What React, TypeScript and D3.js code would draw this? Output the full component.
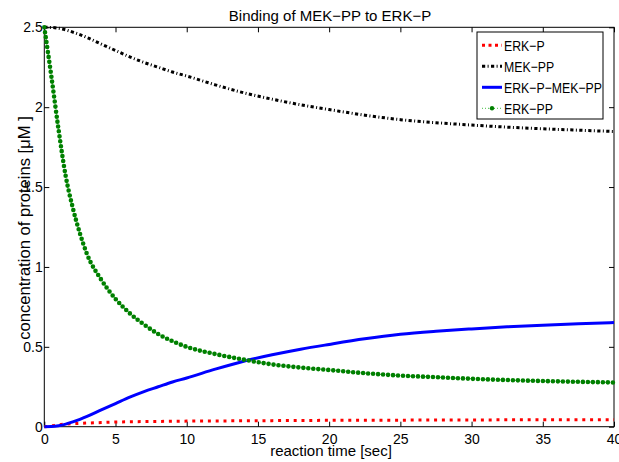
import React, { useEffect, useRef } from 'react';
import * as d3 from 'd3';

// reaction time [sec]
const time = [0, 0.5, 1, 1.5, 2, 2.5, 3, 4, 5, 6, 7, 8, 9, 10, 12, 14, 16, 18, 20, 22.5, 25, 27.5, 30, 32.5, 35, 37.5, 40];
// concentrations [uM]
const erkP = [0, 0.005, 0.012, 0.016, 0.019, 0.021, 0.023, 0.026, 0.029, 0.031, 0.032, 0.033, 0.034, 0.035, 0.036, 0.037, 0.038, 0.039, 0.04, 0.041, 0.041, 0.042, 0.042, 0.043, 0.043, 0.044, 0.044];
const mekPP = [2.5, 2.499, 2.494, 2.484, 2.47, 2.454, 2.436, 2.395, 2.355, 2.315, 2.28, 2.25, 2.22, 2.195, 2.14, 2.09, 2.05, 2.015, 1.985, 1.95, 1.922, 1.903, 1.888, 1.875, 1.865, 1.856, 1.848];
const erkPMekPP = [0, 0.001, 0.006, 0.016, 0.03, 0.046, 0.064, 0.105, 0.145, 0.185, 0.22, 0.25, 0.28, 0.305, 0.36, 0.41, 0.45, 0.485, 0.515, 0.55, 0.578, 0.597, 0.612, 0.625, 0.635, 0.644, 0.652];
const erkPP = [2.5, 2.19, 1.86, 1.57, 1.37, 1.21, 1.08, 0.92, 0.8, 0.71, 0.64, 0.58, 0.535, 0.5, 0.455, 0.42, 0.39, 0.37, 0.355, 0.335, 0.32, 0.31, 0.3, 0.292, 0.286, 0.281, 0.277];

const xTicks = [0, 5, 10, 15, 20, 25, 30, 35, 40];
const yTicks = [0, 0.5, 1, 1.5, 2, 2.5];
const yTickLabels = ['0', '0.5', '1', '1.5', '2', '2.5'];
const seriesNames = ['ERK−P', 'MEK−PP', 'ERK−P−MEK−PP', 'ERK−PP'];

const W = 619;
const H = 462;
const FONT = "'Liberation Sans', Arial, Helvetica, sans-serif";

const App = () => {
  const ref = useRef<SVGSVGElement>(null);

  useEffect(() => {
    const svg = d3.select(ref.current);
    svg.selectAll('*').remove();

    const left = 44.3, right = 614, top = 27.3, bottom = 426.7;

    const x = d3.scaleLinear().domain([0, 40]).range([left, right]);
    const y = d3.scaleLinear().domain([0, 2.5]).range([bottom, top]);

    svg.append('rect').attr('width', W).attr('height', H).attr('fill', '#fff');

    // axes, ticks pointing inwards like matlab
    const styleAxis = (g) => {
      g.select('.domain').remove();
      g.selectAll('.tick line').attr('stroke', '#000');
      g.selectAll('text').attr('font-family', FONT).attr('font-size', 14).attr('fill', '#000');
    };

    svg.append('g')
      .attr('transform', `translate(0,${bottom})`)
      .call(d3.axisBottom(x).tickValues(xTicks).tickFormat(d3.format('d')).tickSizeInner(-5).tickSizeOuter(0).tickPadding(7.5))
      .call(styleAxis);

    svg.append('g')
      .attr('transform', `translate(0,${top})`)
      .call(d3.axisTop(x).tickValues(xTicks).tickFormat(() => '').tickSizeInner(-5).tickSizeOuter(0))
      .call(styleAxis);

    svg.append('g')
      .attr('transform', `translate(${left},0)`)
      .call(d3.axisLeft(y).tickValues(yTicks).tickFormat((d, i) => yTickLabels[i]).tickSizeInner(-5).tickSizeOuter(0).tickPadding(1.6))
      .call(styleAxis);

    svg.append('g')
      .attr('transform', `translate(${right},0)`)
      .call(d3.axisRight(y).tickValues(yTicks).tickFormat(() => '').tickSizeInner(-5).tickSizeOuter(0))
      .call(styleAxis);

    svg.append('rect')
      .attr('x', left).attr('y', top)
      .attr('width', right - left).attr('height', bottom - top)
      .attr('fill', 'none').attr('stroke', '#000').attr('stroke-width', 1);

    const line = (vals) => d3.line<number>()
      .x((d, i) => x(time[i]))
      .y(d => y(d))
      .curve(d3.curveMonotoneX)(vals);

    // ERK-P
    svg.append('path').attr('d', line(erkP))
      .attr('fill', 'none').attr('stroke', '#ff0000').attr('stroke-width', 3)
      .attr('stroke-dasharray', '3 4.8');

    // MEK-PP
    svg.append('path').attr('d', line(mekPP))
      .attr('fill', 'none').attr('stroke', '#000').attr('stroke-width', 3)
      .attr('stroke-dasharray', '3.2 2.4 1 2.4');

    // ERK-P-MEK-PP
    svg.append('path').attr('d', line(erkPMekPP))
      .attr('fill', 'none').attr('stroke', '#0000ff').attr('stroke-width', 3);

    // ERK-PP dotted line with point markers
    svg.append('path').attr('d', line(erkPP))
      .attr('fill', 'none').attr('stroke', '#66cc66').attr('stroke-width', 1.2)
      .attr('stroke-dasharray', '1 2');
    svg.append('path').attr('d', line(erkPP))
      .attr('fill', 'none').attr('stroke', '#008000').attr('stroke-width', 4.6)
      .attr('stroke-linecap', 'round').attr('stroke-dasharray', '0 5');

    // title and labels
    svg.append('text')
      .attr('x', 330).attr('y', 20.5)
      .attr('text-anchor', 'middle')
      .attr('font-family', FONT).attr('font-size', 15)
      .text('Binding of MEK−PP to ERK−P');

    svg.append('text')
      .attr('x', 331).attr('y', 456)
      .attr('text-anchor', 'middle')
      .attr('font-family', FONT).attr('font-size', 15)
      .text('reaction time [sec]');

    svg.append('text')
      .attr('transform', `translate(29.5,228) rotate(-90)`)
      .attr('text-anchor', 'middle')
      .attr('font-family', FONT).attr('font-size', 16.6)
      .text('concentration of proteins [μM ]');

    // legend
    const lg = svg.append('g');
    lg.append('rect')
      .attr('x', 477).attr('y', 32).attr('width', 126).attr('height', 87)
      .attr('fill', '#fff').attr('stroke', '#000').attr('stroke-width', 1);

    const styles = [
      { stroke: '#ff0000', dash: '3 3.5' },
      { stroke: '#000', dash: '3.2 2.4 1 2.4' },
      { stroke: '#0000ff', dash: null },
      { stroke: '#66cc66', dash: '1 2', width: 1.2 },
    ];

    seriesNames.forEach((name, i) => {
      const ly = 45.3 + i * 21;
      const s = styles[i];
      lg.append('line')
        .attr('x1', 482).attr('x2', 502).attr('y1', ly).attr('y2', ly)
        .attr('stroke', s.stroke).attr('stroke-width', s.width || 3)
        .attr('stroke-dasharray', s.dash);
      if (i === 3) {
        lg.append('circle').attr('cx', 492).attr('cy', ly).attr('r', 2.2).attr('fill', '#008000');
      }
      // legend font is drawn narrow, as in the reference
      lg.append('text')
        .attr('transform', `translate(504,${ly}) scale(0.82,1)`)
        .attr('dy', '0.36em')
        .attr('font-family', FONT).attr('font-size', 15)
        .text(name);
    });
  }, []);

  return (
    <svg
      ref={ref}
      width={W}
      height={H}
      style={{ position: 'absolute', left: 0, top: 0, display: 'block' }}
    />
  );
};

export default App;
